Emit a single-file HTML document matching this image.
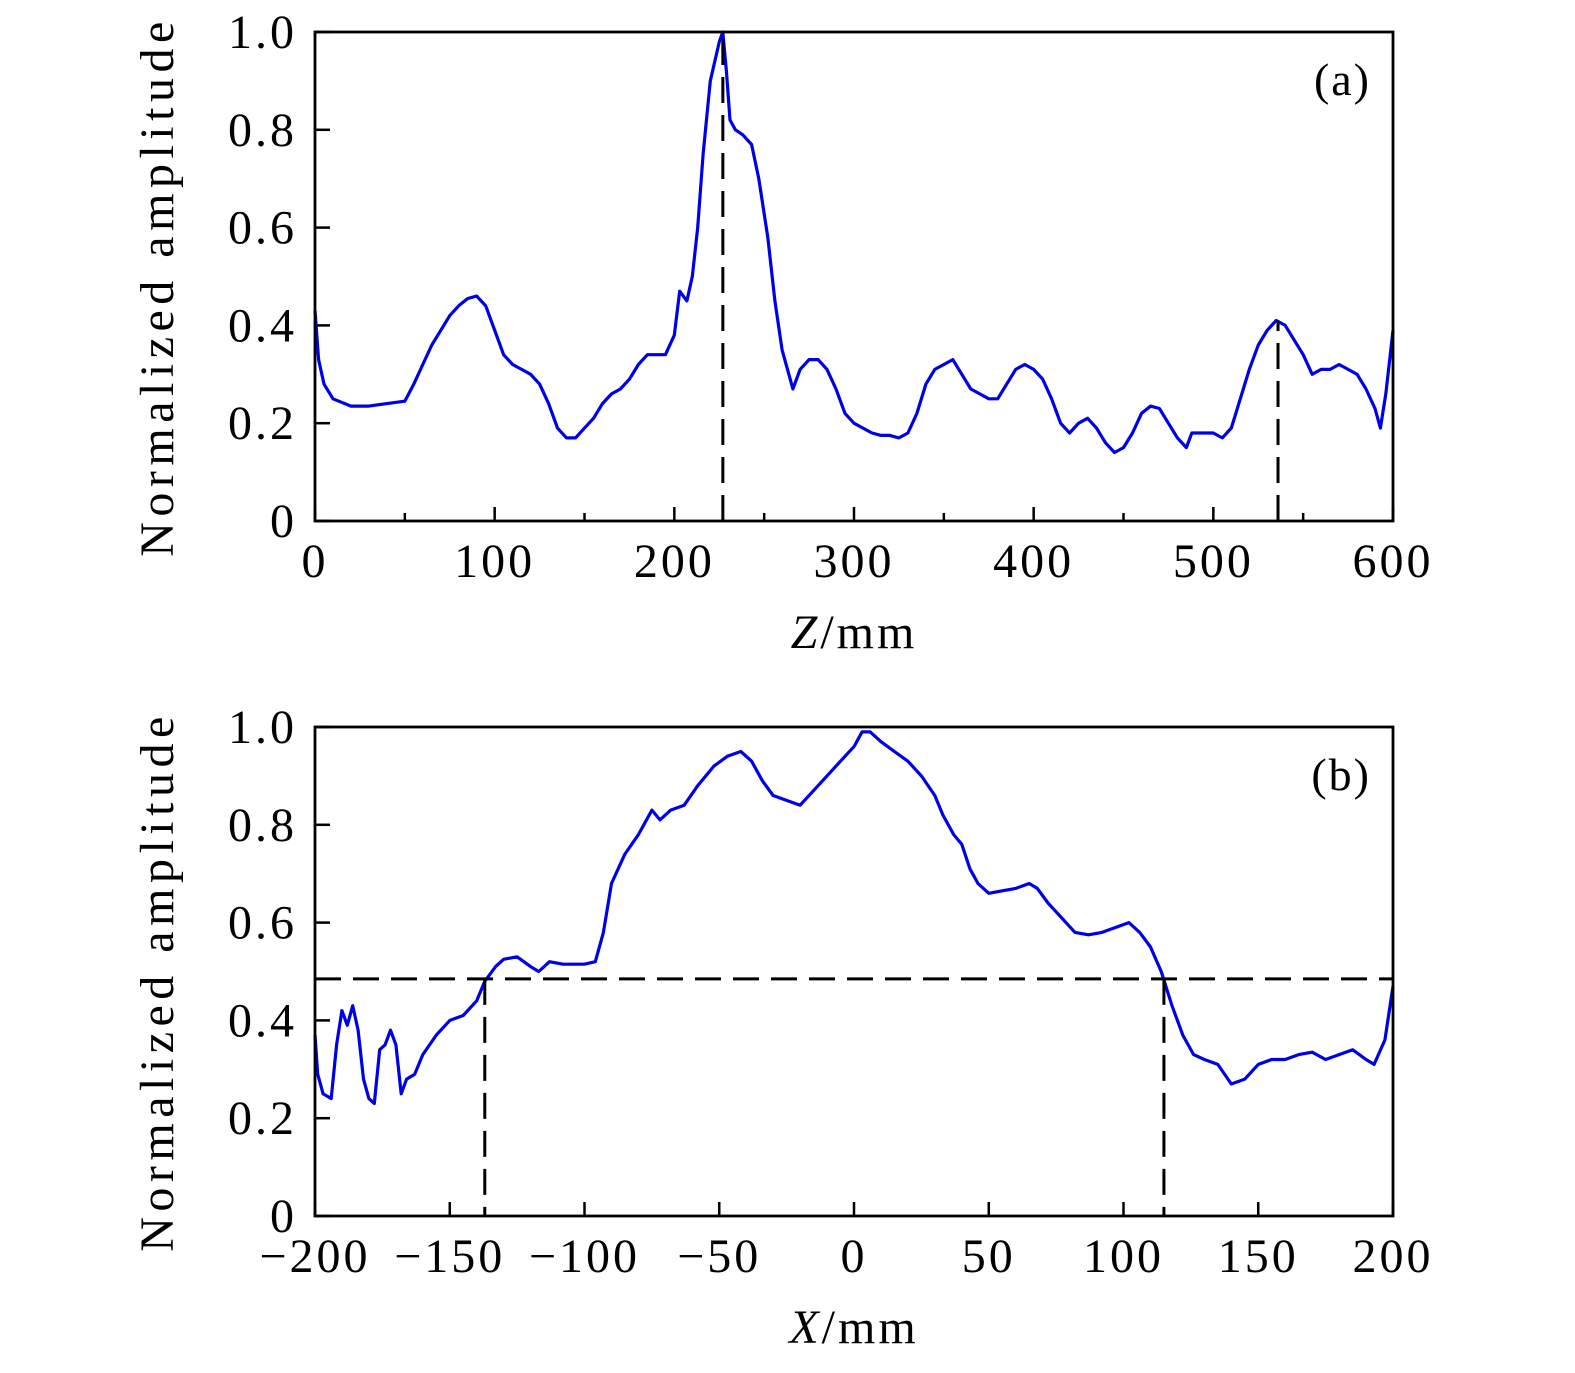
<!DOCTYPE html>
<html><head><meta charset="utf-8"><style>
html,body{margin:0;padding:0;background:#fff;}
svg text{font-family:"Liberation Serif",serif;fill:#000;}
</style></head><body>
<svg id="chart" width="1575" height="1368" xmlns="http://www.w3.org/2000/svg"></svg>
<script>
const zVals=[0,2,5,10,20,30,40,50,55,60,65,70,75,80,85,90,95,100,105,110,115,120,125,130,135,140,145,150,155,160,165,170,175,180,185,190,195,200,203,207,210,213,216,220,225,227,229,231,234,238,243,247,252,256,260,263,266,270,275,280,285,290,295,300,305,310,315,320,325,330,335,340,345,350,355,360,365,370,375,380,385,390,395,400,405,410,415,420,425,430,435,440,445,450,455,460,465,470,475,480,485,488,492,500,505,510,515,520,525,530,535,540,545,550,555,560,565,570,575,580,585,590,593,596,600];
const aVals=[0.43,0.33,0.28,0.25,0.235,0.235,0.24,0.245,0.28,0.32,0.36,0.39,0.42,0.44,0.455,0.46,0.44,0.39,0.34,0.32,0.31,0.30,0.28,0.24,0.19,0.17,0.17,0.19,0.21,0.24,0.26,0.27,0.29,0.32,0.34,0.34,0.34,0.38,0.47,0.45,0.50,0.60,0.75,0.90,0.98,1.0,0.92,0.82,0.80,0.79,0.77,0.70,0.58,0.45,0.35,0.31,0.27,0.31,0.33,0.33,0.31,0.27,0.22,0.20,0.19,0.18,0.175,0.175,0.17,0.18,0.22,0.28,0.31,0.32,0.33,0.30,0.27,0.26,0.25,0.25,0.28,0.31,0.32,0.31,0.29,0.25,0.20,0.18,0.20,0.21,0.19,0.16,0.14,0.15,0.18,0.22,0.235,0.23,0.20,0.17,0.15,0.18,0.18,0.18,0.17,0.19,0.25,0.31,0.36,0.39,0.41,0.40,0.37,0.34,0.30,0.31,0.31,0.32,0.31,0.30,0.27,0.23,0.19,0.26,0.39];
const xVals=[-200,-199,-197,-194,-192,-190,-188,-186,-184,-182,-180,-178,-176,-174,-172,-170,-168,-166,-163,-160,-155,-150,-145,-140,-137,-133,-130,-125,-120,-117,-113,-108,-100,-96,-93,-90,-85,-80,-75,-72,-68,-63,-58,-52,-47,-42,-38,-34,-30,-25,-20,-15,-10,-5,0,3,6,10,15,20,25,30,33,37,40,43,46,50,55,60,65,68,72,77,82,87,92,97,102,106,110,114,118,122,126,130,135,140,145,150,155,160,165,170,175,180,185,190,193,197,200];
const bVals=[0.37,0.29,0.25,0.24,0.35,0.42,0.39,0.43,0.38,0.28,0.24,0.23,0.34,0.35,0.38,0.35,0.25,0.28,0.29,0.33,0.37,0.40,0.41,0.44,0.48,0.51,0.525,0.53,0.51,0.50,0.52,0.515,0.515,0.52,0.58,0.68,0.74,0.78,0.83,0.81,0.83,0.84,0.88,0.92,0.94,0.95,0.93,0.89,0.86,0.85,0.84,0.87,0.90,0.93,0.96,0.99,0.99,0.97,0.95,0.93,0.90,0.86,0.82,0.78,0.76,0.71,0.68,0.66,0.665,0.67,0.68,0.67,0.64,0.61,0.58,0.575,0.58,0.59,0.60,0.58,0.55,0.50,0.43,0.37,0.33,0.32,0.31,0.27,0.28,0.31,0.32,0.32,0.33,0.335,0.32,0.33,0.34,0.32,0.31,0.36,0.47];
const aTicks=[0,100,200,300,400,500,600];
const bTicks=[-200,-150,-100,-50,0,50,100,150,200];
const yTicks=[0,0.2,0.4,0.6,0.8,1.0];
const aDashX=[227,536]; const aDashY=[1.0,0.41];
const bDashY=0.485; const bDashX=[-137,115];

const svg=document.getElementById('chart');
const NS='http://www.w3.org/2000/svg';
function mk(tag,attrs,parent){const e=document.createElementNS(NS,tag);for(const k in attrs)e.setAttribute(k,attrs[k]);(parent||svg).appendChild(e);return e;}

function panel(id,top,xmin,xmax,xs,ys,ticks,minorStep,letter,xlabel){
  const L=315,R=1393,T=top,B=top+489;
  const sx=v=>L+(v-xmin)/(xmax-xmin)*(R-L);
  const sy=v=>B-v*(B-T);
  const g=mk('g',{});
  
  
  for(let v=xmin;v<=xmax+1e-9;v+=minorStep){
    const major=ticks.some(t=>Math.abs(t-v)<1e-9);
    const len=major?14:8;
    mk('line',{x1:sx(v),x2:sx(v),y1:B,y2:B-len,stroke:'#000','stroke-width':2.5},g);
  }
  ticks.forEach(t=>{
    const tx=mk('text',{x:sx(t),y:B+56,'font-size':48,'letter-spacing':3,'text-anchor':'middle'},g);
    tx.textContent=t<0?'\u2212'+(-t):String(t);
    
    
  });
  yTicks.forEach(t=>{
    mk('line',{x1:L,x2:L+15,y1:sy(t),y2:sy(t),stroke:'#000','stroke-width':2.5},g);
    const tx=mk('text',{x:L-18,y:sy(t)+16,'font-size':48,'letter-spacing':3,'text-anchor':'end'},g);
    tx.textContent=t===0?'0':t.toFixed(1);
    
    
  });
  const yl=mk('text',{x:0,y:0,'font-size':48,'letter-spacing':5.5,'text-anchor':'middle',transform:`translate(173,${(T+B)/2+10}) rotate(-90)`},g);
  yl.textContent='Normalized amplitude';
  
  
  const xl=mk('text',{x:(L+R)/2,y:B+127,'font-size':48,'letter-spacing':3,'text-anchor':'middle'},g);
  xl.innerHTML='<tspan font-style="italic">'+xlabel+'</tspan>/mm';
  
  
  const lt=mk('text',{x:R-22,y:T+63,'font-size':46,'letter-spacing':2,'text-anchor':'end'},g);
  lt.textContent='('+letter+')';
  
  
  const pts=xs.map((x,i)=>sx(x).toFixed(1)+','+sy(ys[i]).toFixed(1)).join(' ');
  const pl=mk('polyline',{points:pts,fill:'none',stroke:'#0000e6','stroke-width':3.2,'stroke-linejoin':'round'},g);
  
  
  const fr=mk('rect',{x:L,y:T,width:R-L,height:B-T,fill:'none',stroke:'#000','stroke-width':2.8},g);
  
  
  return {sx,sy,g,L,R,B};
}
const pa=panel('a',32,0,600,zVals,aVals,aTicks,50,'a','Z');
aDashX.forEach((x,i)=>{
  const d=mk('line',{x1:pa.sx(x),x2:pa.sx(x),y1:pa.B,y2:pa.sy(aDashY[i]),stroke:'#000','stroke-width':3,'stroke-dasharray':'26,12'},pa.g);
  
  
});
const pb=panel('b',727,-200,200,xVals,bVals,bTicks,50,'b','X');
const h=mk('line',{x1:pb.L,x2:pb.R,y1:pb.sy(bDashY),y2:pb.sy(bDashY),stroke:'#000','stroke-width':3,'stroke-dasharray':'26,12'},pb.g);


bDashX.forEach(x=>{
  const d=mk('line',{x1:pb.sx(x),x2:pb.sx(x),y1:pb.sy(bDashY),y2:pb.B,stroke:'#000','stroke-width':3,'stroke-dasharray':'26,12'},pb.g);
  
  
});
</script>
</body></html>
